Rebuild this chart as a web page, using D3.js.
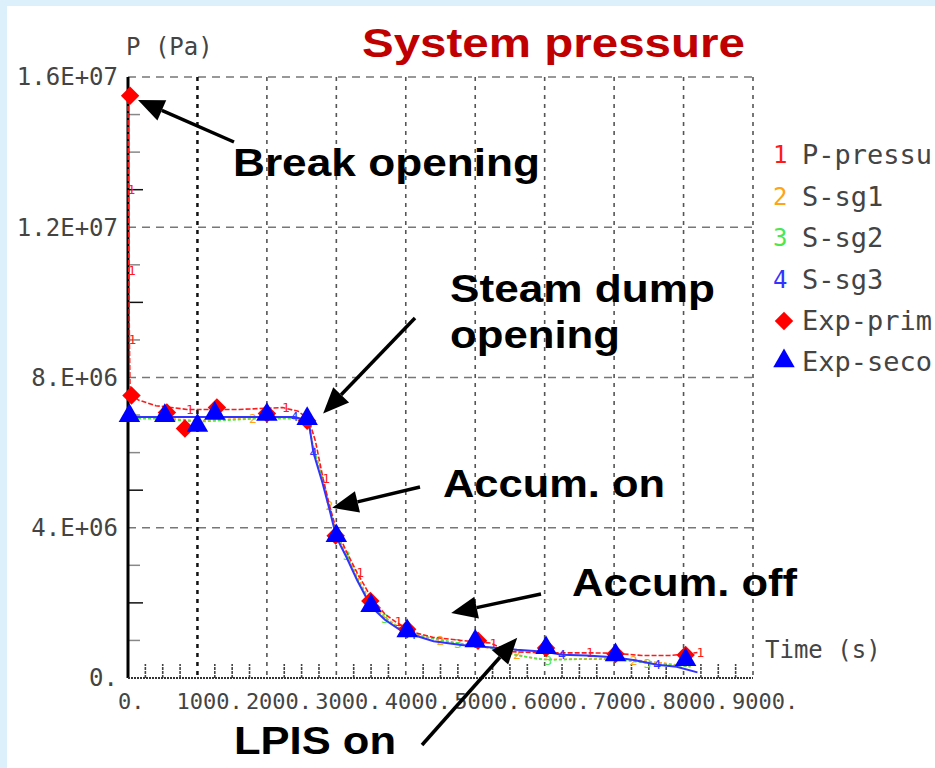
<!DOCTYPE html>
<html>
<head>
<meta charset="utf-8">
<script src="https://d3js.org/d3.v7.min.js"></script>
<style>
  body { margin: 0; background: #fff; }
  svg { display: block; }
  .mono { font-family: "DejaVu Sans Mono", monospace; fill: #444; }
  .note { font-family: "Liberation Sans", Arial, sans-serif; font-weight: bold; fill: #000; }
</style>
</head>
<body>
<script>

// ---- data (time in s, pressure in Pa) ----
var timeTicks  = [0, 1000, 2000, 3000, 4000, 5000, 6000, 7000, 8000, 9000];
var timeLabels = ["0.", "1000.", "2000.", "3000.", "4000.", "5000.", "6000.", "7000.", "8000.", "9000."];
var pTicks  = [0, 4e6, 8e6, 1.2e7, 1.6e7];
var pLabels = ["0.", "4.E+06", "8.E+06", "1.2E+07", "1.6E+07"];

var simPrimary = [[0,1.56e7],[6,1.3e7],[12,1.085e7],[20,9.0e6],[30,7.6e6],[150,7.4e6],[400,7.25e6],[850,7.15e6],
  [1100,7.15e6],[1600,7.15e6],[2230,7.2e6],[2450,7.1e6],[2600,6.9e6],[2700,6.3e6],[2810,5.3e6],[2900,4.6e6],
  [3000,3.95e6],[3150,3.35e6],[3300,2.8e6],[3500,2.15e6],[3700,1.7e6],[3850,1.5e6],[4100,1.22e6],[4400,1.08e6],
  [4800,1.0e6],[5220,0.93e6],[5500,0.7e6],[6000,0.67e6],[6610,0.67e6],[7000,0.66e6],[7400,0.6e6],[7800,0.6e6],
  [8000,0.63e6],[8200,0.68e6]];
var simSg1 = [[0,6.98e6],[500,6.92e6],[1000,6.85e6],[1800,6.92e6],[2400,6.92e6],[2600,6.8e6],[2650,6.3e6],
  [2800,5.35e6],[2900,4.6e6],[3000,3.85e6],[3150,3.3e6],[3300,2.7e6],[3500,2.0e6],[3700,1.62e6],[3900,1.35e6],
  [4100,1.18e6],[4500,1.0e6],[4800,0.9e6],[5200,0.8e6],[5600,0.62e6],[5900,0.5e6],[6300,0.5e6],[6800,0.52e6],
  [7280,0.48e6],[7700,0.4e6],[8100,0.3e6]];
var simSg2 = [[0,6.9e6],[500,6.9e6],[1000,6.82e6],[1800,6.9e6],[2400,6.9e6],[2600,6.78e6],[2660,6.2e6],
  [2800,5.3e6],[2900,4.55e6],[3000,3.8e6],[3150,3.25e6],[3300,2.65e6],[3500,1.95e6],[3700,1.58e6],[3900,1.32e6],
  [4100,1.16e6],[4750,0.93e6],[5200,0.82e6],[5600,0.6e6],[6050,0.48e6],[6500,0.5e6],[7000,0.5e6],[7480,0.4e6],
  [8100,0.3e6]];
var simSg3 = [[0,6.95e6],[500,6.95e6],[1000,6.95e6],[1800,6.95e6],[2400,6.95e6],[2600,6.85e6],[2670,6.0e6],
  [2800,5.2e6],[2900,4.5e6],[3000,3.75e6],[3150,3.2e6],[3300,2.6e6],[3500,1.9e6],[3700,1.55e6],[3900,1.3e6],
  [4100,1.15e6],[4400,0.98e6],[4800,0.88e6],[5200,0.82e6],[5600,0.75e6],[6000,0.7e6],[6250,0.62e6],[6600,0.6e6],
  [7000,0.55e6],[7300,0.47e6],[7620,0.35e6],[7900,0.3e6],[8200,0.15e6]];
var expPrimary = [[30,1.55e7],[50,7.52e6],[560,7.07e6],[820,6.64e6],[1280,7.2e6],[2000,7.04e6],[2580,6.85e6],
  [2990,3.79e6],[3490,2.05e6],[4020,1.3e6],[5040,0.99e6],[6020,0.8e6],[7020,0.64e6],[8030,0.61e6]];
var expSecondary = [[20,6.93e6],[530,6.93e6],[1000,6.67e6],[1250,6.99e6],[2000,6.96e6],[2580,6.85e6],
  [3000,3.73e6],[3500,1.87e6],[4020,1.2e6],[5000,0.93e6],[6020,0.75e6],[7020,0.56e6],[8030,0.43e6]];

// legend labels as they appear, cut by the right edge of the picture
var simNames = ["P-pressu", "S-sg1", "S-sg2", "S-sg3"];
var expNames = ["Exp-prim", "Exp-seco"];
// which points of each simulated curve carry its number label
var simMarks = [[1,2,3,7,10,14,18,21,25,28,33], [3,8,12,16,19,23], [2,10,13,16,19,22], [4,6,15,21,25]];

var notes = [
  {lines: ["Break opening"], tip: [144, 1.539e7]},
  {lines: ["Steam dump", "opening"], tip: [2810, 7.04e6]},
  {lines: ["Accum. on"], tip: [2940, 4.53e6]},
  {lines: ["Accum. off"], tip: [4654, 1.73e6]},
  {lines: ["LPIS on"], tip: [5605, 1.07e6]}
];

// ---- layout ----
var W = 935, H = 768;
var colors = ["#ff1a1a", "#ffa31a", "#4de64d", "#3333ff"];
var x = d3.scaleLinear().domain([0, 9000]).range([128, 753]);
var y = d3.scaleLinear().domain([0, 1.6e7]).range([678, 77]);

var svg = d3.select("body").append("svg").attr("width", W).attr("height", H);
svg.append("rect").attr("width", W).attr("height", H).attr("fill", "#dcf0fc");
svg.append("rect").attr("x", 7).attr("y", 6).attr("width", W - 7).attr("height", H - 6).attr("fill", "#fff");

// grid
svg.append("g").selectAll("line").data(pTicks.slice(1)).enter().append("line")
    .attr("x1", x(0)).attr("x2", x(9000)).attr("y1", d => y(d)).attr("y2", d => y(d))
    .attr("stroke", "#777").attr("stroke-width", 1.5).attr("stroke-dasharray", "8,6");
svg.append("g").selectAll("line").data(timeTicks.slice(1)).enter().append("line")
    .attr("x1", d => x(d)).attr("x2", d => x(d)).attr("y1", y(1.6e7)).attr("y2", y(0))
    .attr("stroke", d => d === 1000 ? "#111" : "#555")
    .attr("stroke-width", d => d === 1000 ? 2.5 : 1.6).attr("stroke-dasharray", "4,5");

// minor ticks
var yMinor = d3.range(1e6, 1.6e7, 1e6).filter(d => d % 4e6 !== 0);
svg.append("g").selectAll("line").data(yMinor).enter().append("line")
    .attr("x1", x(0)).attr("x2", d => x(0) + ([1.3e7, 1e7, 5e6, 2e6].indexOf(d) >= 0 ? 15 : 12))
    .attr("y1", d => y(d)).attr("y2", d => y(d))
    .attr("stroke", d => [1.3e7, 1e7, 5e6, 2e6].indexOf(d) >= 0 ? "#111" : "#888").attr("stroke-width", 1.5);
var xMinor = d3.range(250, 9000, 250).filter(d => d % 1000 !== 0);
svg.append("g").selectAll("line").data(xMinor).enter().append("line")
    .attr("x1", d => x(d)).attr("x2", d => x(d)).attr("y1", y(0)).attr("y2", y(0) - 14)
    .attr("stroke", "#444").attr("stroke-width", 1.6).attr("stroke-dasharray", "3,1");

// axes
svg.append("line").attr("x1", x(0)).attr("x2", x(0)).attr("y1", y(1.6e7)).attr("y2", y(0))
    .attr("stroke", "#000").attr("stroke-width", 3);
svg.append("line").attr("x1", x(0)).attr("x2", x(9000)).attr("y1", y(0)).attr("y2", y(0))
    .attr("stroke", "#333").attr("stroke-width", 2).attr("stroke-dasharray", "2,1");

// tick labels
svg.append("g").selectAll("text").data(pTicks).enter().append("text")
    .attr("class", "mono").attr("x", 118).attr("y", d => y(d))
    .attr("dy", "0.35em").attr("text-anchor", "end").attr("font-size", 24)
    .text((d, i) => pLabels[i]);
svg.append("g").selectAll("text").data(timeTicks).enter().append("text")
    .attr("class", "mono").attr("x", d => x(d) - (d === 0 ? 10 : 21)).attr("y", 701)
    .attr("dy", "0.35em").attr("font-size", 22)
    .text((d, i) => timeLabels[i]);
svg.append("text").attr("class", "mono").attr("x", 126).attr("y", 47).attr("dy", "0.35em")
    .attr("font-size", 24).text("P (Pa)");
svg.append("text").attr("class", "mono").attr("x", 765).attr("y", 650).attr("dy", "0.35em")
    .attr("font-size", 24).text("Time (s)");

// simulated curves
var line = d3.line().x(d => x(d[0])).y(d => y(d[1]));
var sims = [simPrimary, simSg1, simSg2, simSg3];
var dashes = ["5,2", "3,2", "3,2", null];
[1, 2, 0, 3].forEach(function(i) {
  svg.append("path").datum(sims[i]).attr("d", line).attr("fill", "none")
      .attr("stroke", colors[i]).attr("stroke-width", i === 3 ? 2 : 1.6)
      .attr("stroke-dasharray", dashes[i]);
  svg.append("g").selectAll("text").data(simMarks[i].map(k => sims[i][k])).enter().append("text")
      .attr("x", d => x(d[0]) + (i === 0 ? 3 : 0)).attr("y", d => y(d[1])).attr("dy", "0.35em")
      .attr("text-anchor", "middle").attr("font-family", "DejaVu Sans Mono, monospace")
      .attr("font-size", 13).attr("fill", colors[i]).text(i + 1);
});

// experiments
var diamond = d3.symbol().type(d3.symbolSquare).size(170);
var triangle = d3.symbol().type(d3.symbolTriangle).size(200);
svg.append("g").selectAll("path").data(expPrimary).enter().append("path")
    .attr("d", diamond).attr("fill", "#ff0000")
    .attr("transform", d => "translate(" + x(d[0]) + "," + y(d[1]) + ") rotate(45)");
svg.append("g").selectAll("path").data(expSecondary).enter().append("path")
    .attr("d", triangle).attr("fill", "#0000ff")
    .attr("transform", d => "translate(" + x(d[0]) + "," + (y(d[1]) - 2) + ")");

// legend
var lg = svg.append("g");
var rowY = [155, 197, 238, 280, 321, 362];
simNames.forEach(function(n, i) {
  lg.append("text").attr("x", 773).attr("y", rowY[i]).attr("dy", "0.35em")
      .attr("font-family", "DejaVu Sans Mono, monospace").attr("font-size", 24)
      .attr("fill", colors[i]).text(i + 1);
  lg.append("text").attr("class", "mono").attr("x", 802).attr("y", rowY[i]).attr("dy", "0.35em")
      .attr("font-size", 27).text(n);
});
lg.append("path").attr("d", diamond).attr("fill", "#ff0000")
    .attr("transform", "translate(784," + rowY[4] + ") rotate(45)");
lg.append("path").attr("d", triangle).attr("fill", "#0000ff")
    .attr("transform", "translate(784," + (rowY[5] - 1) + ")");
expNames.forEach(function(n, i) {
  lg.append("text").attr("class", "mono").attr("x", 802).attr("y", rowY[4 + i]).attr("dy", "0.35em")
      .attr("font-size", 27).text(n);
});

// title
svg.append("text").attr("x", 362).attr("y", 57).attr("font-family", "Liberation Sans, Arial, sans-serif")
    .attr("font-weight", "bold").attr("font-size", 40).attr("fill", "#c00000")
    .attr("textLength", 383).attr("lengthAdjust", "spacingAndGlyphs").text("System pressure");

// annotations
var notePos = [
  {x: 233, y: [176], w: [307], tail: [234, 142]},
  {x: 450, y: [302, 348], w: [265, 170], tail: [415, 318]},
  {x: 443, y: [497], w: [222], tail: [420, 487]},
  {x: 572, y: [596], w: [225], tail: [541, 594]},
  {x: 234, y: [754], w: [162], tail: [422, 745]}
];
notes.forEach(function(n, i) {
  var p = notePos[i];
  n.lines.forEach(function(s, j) {
    svg.append("text").attr("class", "note").attr("x", p.x).attr("y", p.y[j])
        .attr("font-size", 39).attr("textLength", p.w[j]).attr("lengthAdjust", "spacingAndGlyphs").text(s);
  });
  var tx = x(n.tip[0]), ty = y(n.tip[1]);
  var dx = tx - p.tail[0], dy = ty - p.tail[1], len = Math.sqrt(dx * dx + dy * dy);
  var ux = dx / len, uy = dy / len, hl = 26, hw = 11;
  var bx = tx - ux * hl, by = ty - uy * hl;
  svg.append("line").attr("x1", p.tail[0]).attr("y1", p.tail[1]).attr("x2", bx).attr("y2", by)
      .attr("stroke", "#000").attr("stroke-width", 3.5);
  svg.append("path").attr("fill", "#000")
      .attr("d", "M" + tx + "," + ty + "L" + (bx - uy * hw) + "," + (by + ux * hw) +
                 "L" + (bx + uy * hw) + "," + (by - ux * hw) + "Z");
});

</script>
</body>
</html>
